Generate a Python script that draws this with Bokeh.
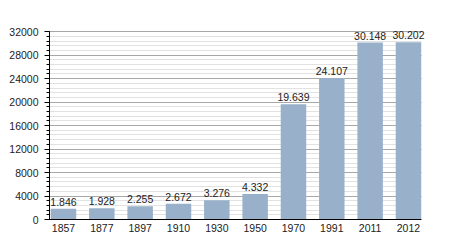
from bokeh.plotting import figure
from bokeh.models import ColumnDataSource, Range1d, FixedTicker, SingleIntervalTicker
from bokeh.embed import file_html
from bokeh.resources import INLINE
from bokeh.core.properties import value

years = ["1857", "1877", "1897", "1910", "1930", "1950", "1970", "1991", "2011", "2012"]
population = [1846, 1928, 2255, 2672, 3276, 4332, 19639, 24107, 30148, 30202]
y_max = 32000

idx = list(range(len(years)))
labels = [f"{v:,}".replace(",", ".") for v in population]
src = ColumnDataSource(dict(x=idx, top=population, label=labels))

x_lo, x_hi = -0.365, 9.34

p = figure(width=450, height=250, output_backend="svg", toolbar_location=None,
           x_range=Range1d(x_lo, 9.575), y_range=Range1d(0, 33900),
           min_border_left=49, min_border_right=20, min_border_top=20, min_border_bottom=31)
p.outline_line_color = None
p.background_fill_color = "white"
p.border_fill_color = "white"

p.vbar(x="x", top="top", width=0.665, source=src, fill_color="#99b0ca", line_color=None)
p.text(x="x", y="top", text="label", source=src, text_align="center", text_baseline="bottom",
       y_offset=-3, text_font=value("Liberation Sans"), text_font_size="10.5px", text_color="#222222")

# y axis
p.yaxis.ticker = SingleIntervalTicker(interval=4000, num_minor_ticks=5)
p.yaxis.bounds = (0, y_max)
p.yaxis.axis_line_color = "black"
p.yaxis.major_tick_line_color = "black"
p.yaxis.minor_tick_line_color = "black"
p.yaxis.major_tick_out = 5
p.yaxis.major_tick_in = 0
p.yaxis.minor_tick_out = 3
p.yaxis.minor_tick_in = 0
p.yaxis.major_label_standoff = 6
p.yaxis.major_label_text_font = "Liberation Sans"
p.yaxis.major_label_text_font_size = "10.5px"
p.yaxis.major_label_text_color = "#222222"

# x axis
p.xaxis.ticker = FixedTicker(ticks=idx)
p.xaxis.bounds = (x_lo, x_hi)
p.xaxis.major_label_overrides = {i: y for i, y in zip(idx, years)}
p.xaxis.axis_line_color = "black"
p.xaxis.major_tick_line_color = None
p.xaxis.minor_tick_line_color = None
p.xaxis.major_tick_out = 0
p.xaxis.major_tick_in = 0
p.xaxis.major_label_standoff = 4
p.xaxis.major_label_text_font = "Liberation Sans"
p.xaxis.major_label_text_font_size = "10.5px"
p.xaxis.major_label_text_color = "#222222"

p.xgrid.grid_line_color = None
p.ygrid.bounds = (0, y_max)
p.ygrid.cross_bounds = (x_lo, x_hi)
p.ygrid.grid_line_color = "#a8a8a8"
p.ygrid.minor_grid_line_color = "#e2e2e2"

open("out.html", "w").write(file_html(p, INLINE))
